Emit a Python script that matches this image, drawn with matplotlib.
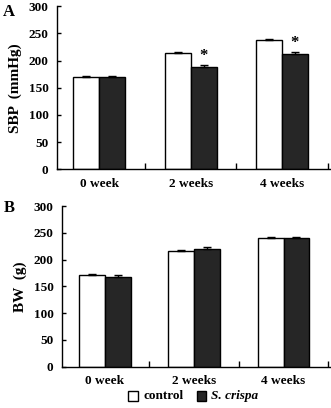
import matplotlib
matplotlib.use("Agg")
import matplotlib.pyplot as plt
import numpy as np

categories = ["0 week", "2 weeks", "4 weeks"]
sbp_control = [169, 213, 238]
sbp_control_err = [2, 3, 2]
sbp_crispa = [170, 188, 212]
sbp_crispa_err = [2, 4, 3]
bw_control = [172, 217, 241]
bw_control_err = [1, 1, 1]
bw_crispa = [168, 220, 240]
bw_crispa_err = [3, 3, 3]
yticks = [0, 50, 100, 150, 200, 250, 300]

plt.rcParams['font.family'] = ['Liberation Serif', 'DejaVu Serif']
plt.rcParams['font.weight'] = 'bold'

fig = plt.figure(figsize=(3.31, 4.08), dpi=100)

def panel(rect, ctrl, ctrl_err, cri, cri_err, ylabel, xlim, bw, stars=None):
    ax = fig.add_axes(rect)
    x = np.arange(len(categories))
    ax.bar(x - bw / 2, ctrl, bw, color='white', edgecolor='black', linewidth=1.0, zorder=2)
    ax.bar(x + bw / 2, cri, bw, color='#262626', edgecolor='black', linewidth=1.0, zorder=2)
    ax.errorbar(x - bw / 2, ctrl, yerr=[np.zeros(len(ctrl)), ctrl_err], fmt='none',
                ecolor='black', elinewidth=1.0, capsize=3, capthick=1.0, zorder=3)
    ax.errorbar(x + bw / 2, cri, yerr=[np.zeros(len(cri)), cri_err], fmt='none',
                ecolor='black', elinewidth=1.0, capsize=3, capthick=1.0, zorder=3)
    if stars:
        for i in stars:
            ax.text(x[i] + bw / 2, cri[i] + cri_err[i] + 2, '*', ha='center', va='bottom',
                    fontsize=12, fontweight='bold')
    ax.set_ylim(0, 300)
    ax.set_xlim(*xlim)
    ax.set_yticks(yticks)
    ax.set_yticklabels([str(v) for v in yticks], fontsize=9.5, fontweight='bold')
    ax.set_xticks([0.5, 1.5, 2.5])
    ax.set_xticklabels([])
    ax.set_xticks(x, minor=True)
    ax.set_xticklabels(categories, minor=True, fontsize=9.5, fontweight='bold')
    ax.tick_params(axis='x', which='minor', length=0, pad=6)
    ax.tick_params(axis='x', which='major', direction='in', length=4, width=1)
    ax.tick_params(axis='y', direction='in', length=3, width=1, pad=6)
    for s in ['top', 'right']:
        ax.spines[s].set_visible(False)
    for s in ['left', 'bottom']:
        ax.spines[s].set_linewidth(1.0)
    ax.set_ylabel(ylabel, fontsize=11, fontweight='bold', labelpad=5)
    return ax

axA = panel([0.172, 0.585, 0.825, 0.400], sbp_control, sbp_control_err, sbp_crispa, sbp_crispa_err,
            'SBP  (mmHg)', (-0.464, 2.526), 0.285, stars=[1, 2])
axB = panel([0.187, 0.101, 0.810, 0.394], bw_control, bw_control_err, bw_crispa, bw_crispa_err,
            'BW  (g)', (-0.48, 2.52), 0.288)

fig.text(0.01, 0.97, 'A', fontsize=12, fontweight='bold', va='center')
fig.text(0.01, 0.49, 'B', fontsize=12, fontweight='bold', va='center')

# legend
from matplotlib.patches import Rectangle
fig.patches.append(Rectangle((128 / 331, 1 - 401 / 408), 10 / 331, 10 / 408, transform=fig.transFigure,
                             facecolor='white', edgecolor='black', linewidth=1.0))
fig.text(144 / 331, 1 - 396 / 408, 'control', fontsize=9.5, fontweight='bold', va='center')
fig.patches.append(Rectangle((197 / 331, 1 - 401 / 408), 9 / 331, 10 / 408, transform=fig.transFigure,
                             facecolor='#262626', edgecolor='black', linewidth=1.0))
fig.text(211 / 331, 1 - 396 / 408, 'S. crispa', fontsize=9.5, fontweight='bold', style='italic', va='center')

fig.savefig('out.png', dpi=100)
